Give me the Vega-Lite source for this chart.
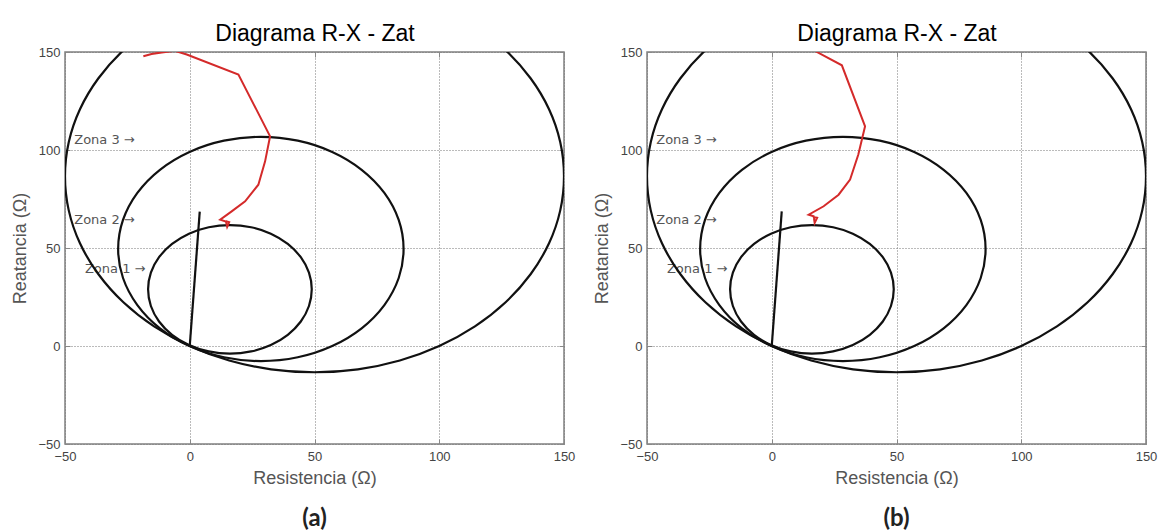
{
  "$schema": "https://vega.github.io/schema/vega-lite/v6.json",
  "background": "white",
  "padding": {"left": 11, "top": 21, "right": 5, "bottom": 0},
  "config": {
    "font": "Liberation Sans",
    "view": {"stroke": "#808080", "strokeWidth": 1.5},
    "axis": {"domain": false}
  },
  "datasets": {
    "circles": [
      {"zone": "Z3", "i": 0, "R": 150, "X": 86.6},
      {"zone": "Z3", "i": 1, "R": 148.5, "X": 104.0},
      {"zone": "Z3", "i": 2, "R": 144.0, "X": 120.8},
      {"zone": "Z3", "i": 3, "R": 136.6, "X": 136.6},
      {"zone": "Z3", "i": 4, "R": 126.6, "X": 150.9},
      {"zone": "Z3", "i": 5, "R": 114.3, "X": 163.2},
      {"zone": "Z3", "i": 6, "R": 100, "X": 173.2},
      {"zone": "Z3", "i": 7, "R": 84.2, "X": 180.6},
      {"zone": "Z3", "i": 8, "R": 67.4, "X": 185.1},
      {"zone": "Z3", "i": 9, "R": 50, "X": 186.6},
      {"zone": "Z3", "i": 10, "R": 32.6, "X": 185.1},
      {"zone": "Z3", "i": 11, "R": 15.8, "X": 180.6},
      {"zone": "Z3", "i": 12, "R": 0, "X": 173.2},
      {"zone": "Z3", "i": 13, "R": -14.3, "X": 163.2},
      {"zone": "Z3", "i": 14, "R": -26.6, "X": 150.9},
      {"zone": "Z3", "i": 15, "R": -36.6, "X": 136.6},
      {"zone": "Z3", "i": 16, "R": -44.0, "X": 120.8},
      {"zone": "Z3", "i": 17, "R": -48.5, "X": 104.0},
      {"zone": "Z3", "i": 18, "R": -50, "X": 86.6},
      {"zone": "Z3", "i": 19, "R": -48.5, "X": 69.2},
      {"zone": "Z3", "i": 20, "R": -44.0, "X": 52.4},
      {"zone": "Z3", "i": 21, "R": -36.6, "X": 36.6},
      {"zone": "Z3", "i": 22, "R": -26.6, "X": 22.3},
      {"zone": "Z3", "i": 23, "R": -14.3, "X": 10.0},
      {"zone": "Z3", "i": 24, "R": 0, "X": 0},
      {"zone": "Z3", "i": 25, "R": 15.8, "X": -7.4},
      {"zone": "Z3", "i": 26, "R": 32.6, "X": -11.9},
      {"zone": "Z3", "i": 27, "R": 50, "X": -13.4},
      {"zone": "Z3", "i": 28, "R": 67.4, "X": -11.9},
      {"zone": "Z3", "i": 29, "R": 84.2, "X": -7.4},
      {"zone": "Z3", "i": 30, "R": 100, "X": 0},
      {"zone": "Z3", "i": 31, "R": 114.3, "X": 10.0},
      {"zone": "Z3", "i": 32, "R": 126.6, "X": 22.3},
      {"zone": "Z3", "i": 33, "R": 136.6, "X": 36.6},
      {"zone": "Z3", "i": 34, "R": 144.0, "X": 52.4},
      {"zone": "Z3", "i": 35, "R": 148.5, "X": 69.2},
      {"zone": "Z2", "i": 0, "R": 85.7, "X": 49.5},
      {"zone": "Z2", "i": 1, "R": 83.75, "X": 64.3},
      {"zone": "Z2", "i": 2, "R": 78.0, "X": 78.1},
      {"zone": "Z2", "i": 3, "R": 68.9, "X": 89.9},
      {"zone": "Z2", "i": 4, "R": 57.1, "X": 99.0},
      {"zone": "Z2", "i": 5, "R": 43.3, "X": 104.75},
      {"zone": "Z2", "i": 6, "R": 28.5, "X": 106.7},
      {"zone": "Z2", "i": 7, "R": 13.7, "X": 104.75},
      {"zone": "Z2", "i": 8, "R": -0.1, "X": 99.0},
      {"zone": "Z2", "i": 9, "R": -11.95, "X": 89.9},
      {"zone": "Z2", "i": 10, "R": -21.0, "X": 78.1},
      {"zone": "Z2", "i": 11, "R": -26.75, "X": 64.3},
      {"zone": "Z2", "i": 12, "R": -28.7, "X": 49.5},
      {"zone": "Z2", "i": 13, "R": -26.75, "X": 34.7},
      {"zone": "Z2", "i": 14, "R": -21.0, "X": 20.9},
      {"zone": "Z2", "i": 15, "R": -11.95, "X": 9.05},
      {"zone": "Z2", "i": 16, "R": -0.1, "X": 0.0},
      {"zone": "Z2", "i": 17, "R": 13.7, "X": -5.75},
      {"zone": "Z2", "i": 18, "R": 28.5, "X": -7.7},
      {"zone": "Z2", "i": 19, "R": 43.3, "X": -5.75},
      {"zone": "Z2", "i": 20, "R": 57.1, "X": 0.0},
      {"zone": "Z2", "i": 21, "R": 68.9, "X": 9.05},
      {"zone": "Z2", "i": 22, "R": 78.0, "X": 20.9},
      {"zone": "Z2", "i": 23, "R": 83.75, "X": 34.7},
      {"zone": "Z1", "i": 0, "R": 48.9, "X": 28.9},
      {"zone": "Z1", "i": 1, "R": 47.78, "X": 37.39},
      {"zone": "Z1", "i": 2, "R": 44.51, "X": 45.3},
      {"zone": "Z1", "i": 3, "R": 39.29, "X": 52.09},
      {"zone": "Z1", "i": 4, "R": 32.5, "X": 57.31},
      {"zone": "Z1", "i": 5, "R": 24.59, "X": 60.58},
      {"zone": "Z1", "i": 6, "R": 16.1, "X": 61.7},
      {"zone": "Z1", "i": 7, "R": 7.61, "X": 60.58},
      {"zone": "Z1", "i": 8, "R": -0.3, "X": 57.31},
      {"zone": "Z1", "i": 9, "R": -7.09, "X": 52.09},
      {"zone": "Z1", "i": 10, "R": -12.31, "X": 45.3},
      {"zone": "Z1", "i": 11, "R": -15.58, "X": 37.39},
      {"zone": "Z1", "i": 12, "R": -16.7, "X": 28.9},
      {"zone": "Z1", "i": 13, "R": -15.58, "X": 20.41},
      {"zone": "Z1", "i": 14, "R": -12.31, "X": 12.5},
      {"zone": "Z1", "i": 15, "R": -7.09, "X": 5.71},
      {"zone": "Z1", "i": 16, "R": -0.3, "X": 0.49},
      {"zone": "Z1", "i": 17, "R": 7.61, "X": -2.78},
      {"zone": "Z1", "i": 18, "R": 16.1, "X": -3.9},
      {"zone": "Z1", "i": 19, "R": 24.59, "X": -2.78},
      {"zone": "Z1", "i": 20, "R": 32.5, "X": 0.49},
      {"zone": "Z1", "i": 21, "R": 39.29, "X": 5.71},
      {"zone": "Z1", "i": 22, "R": 44.51, "X": 12.5},
      {"zone": "Z1", "i": 23, "R": 47.78, "X": 20.41}
    ],
    "zlineA": [
      {"i": 0, "R": 0, "X": 0},
      {"i": 1, "R": 4.0, "X": 68.6}
    ],
    "zlineB": [
      {"i": 0, "R": 0, "X": 0},
      {"i": 1, "R": 4.0, "X": 68.7}
    ],
    "redA": [
      {"i": 0, "R": -18.6, "X": 147.8},
      {"i": 1, "R": -15.3, "X": 149.0},
      {"i": 2, "R": -11.2, "X": 149.8},
      {"i": 3, "R": -6.0, "X": 150.6},
      {"i": 4, "R": -1.2, "X": 148.7},
      {"i": 5, "R": 19.5, "X": 138.5},
      {"i": 6, "R": 32.2, "X": 107.0},
      {"i": 7, "R": 30.2, "X": 94.2},
      {"i": 8, "R": 27.5, "X": 82.3},
      {"i": 9, "R": 22.2, "X": 73.8},
      {"i": 10, "R": 16.8, "X": 68.7},
      {"i": 11, "R": 12.2, "X": 64.5},
      {"i": 12, "R": 14.5, "X": 63.5},
      {"i": 13, "R": 15.0, "X": 60.8},
      {"i": 14, "R": 15.8, "X": 63.2},
      {"i": 15, "R": 14.5, "X": 63.6}
    ],
    "redB": [
      {"i": 0, "R": 17.5, "X": 150.4},
      {"i": 1, "R": 28.1, "X": 143.2},
      {"i": 2, "R": 37.4, "X": 112.1},
      {"i": 3, "R": 34.7, "X": 97.7},
      {"i": 4, "R": 31.4, "X": 84.9},
      {"i": 5, "R": 26.8, "X": 77.2},
      {"i": 6, "R": 20.8, "X": 71.3},
      {"i": 7, "R": 14.8, "X": 67.0},
      {"i": 8, "R": 16.8, "X": 66.2},
      {"i": 9, "R": 17.2, "X": 62.8},
      {"i": 10, "R": 18.2, "X": 65.4},
      {"i": 11, "R": 16.5, "X": 65.8}
    ],
    "zones": [
      {"label": "Zona 3 →", "R": -46.3, "X": 104.9},
      {"label": "Zona 2 →", "R": -46.3, "X": 64.5},
      {"label": "Zona 1 →", "R": -42.0, "X": 39.3}
    ]
  },
  "hconcat": [
    {
      "width": 499,
      "height": 392,
      "title": {"text": "(a)", "orient": "bottom", "anchor": "middle", "font": "Lato", "fontSize": 24, "fontWeight": "bold", "color": "#222", "offset": 20},
      "resolve": {"axis": {"x": "independent", "y": "independent"}},
      "layer": [
        {
          "data": {"name": "zones"},
          "mark": {"type": "text", "align": "left", "baseline": "middle", "font": "DejaVu Sans", "fontSize": 13, "color": "#555"},
          "encoding": {
            "x": {"field": "R", "type": "quantitative", "scale": {"domain": [-50, 150], "nice": false}, "axis": null},
            "y": {"field": "X", "type": "quantitative", "scale": {"domain": [-50, 150], "nice": false}, "axis": null},
            "text": {"field": "label"}
          }
        },
        {
          "data": {"name": "circles"},
          "mark": {"type": "line", "color": "#111", "strokeWidth": 2.2, "clip": true, "interpolate": "cardinal-closed"},
          "encoding": {
            "x": {"field": "R", "type": "quantitative", "scale": {"domain": [-50, 150], "nice": false},
              "axis": {"orient": "bottom", "values": [-50, 0, 50, 100, 150], "title": "Resistencia (Ω)", "grid": true, "gridDash": [1, 2], "gridColor": "#777", "gridWidth": 1, "domain": false, "tickSize": -5, "tickColor": "#888", "labelPadding": 11, "labelFlush": false, "labelOverlap": false, "labelFontSize": 13, "labelColor": "#444", "titleFontSize": 18, "titleFontWeight": "normal", "titleColor": "#555", "titlePadding": 6}},
            "y": {"field": "X", "type": "quantitative", "scale": {"domain": [-50, 150], "nice": false},
              "axis": {"orient": "left", "values": [-50, 0, 50, 100, 150], "title": "Reatancia (Ω)", "grid": true, "gridDash": [1, 2], "gridColor": "#777", "gridWidth": 1, "domain": false, "tickSize": -5, "tickColor": "#888", "labelPadding": 10, "labelFlush": false, "labelOverlap": false, "labelFontSize": 13, "labelColor": "#444", "titleFontSize": 18, "titleFontWeight": "normal", "titleColor": "#555", "titlePadding": 8}},
            "detail": {"field": "zone"},
            "order": {"field": "i", "type": "quantitative"}
          }
        },
        {
          "data": {"name": "zlineA"},
          "mark": {"type": "line", "color": "#111", "strokeWidth": 2.2, "clip": true},
          "encoding": {
            "x": {"field": "R", "type": "quantitative", "scale": {"domain": [-50, 150], "nice": false}, "axis": null},
            "y": {"field": "X", "type": "quantitative", "scale": {"domain": [-50, 150], "nice": false}, "axis": null},
            "order": {"field": "i", "type": "quantitative"}
          }
        },
        {
          "data": {"name": "redA"},
          "mark": {"type": "line", "color": "#d42a2a", "strokeWidth": 2, "clip": true},
          "encoding": {
            "x": {"field": "R", "type": "quantitative", "scale": {"domain": [-50, 150], "nice": false}, "axis": null},
            "y": {"field": "X", "type": "quantitative", "scale": {"domain": [-50, 150], "nice": false}, "axis": null},
            "order": {"field": "i", "type": "quantitative"}
          }
        },
        {
          "data": {"name": "zlineA"},
          "mark": {"type": "point", "opacity": 0},
          "encoding": {
            "x": {"field": "R", "type": "quantitative", "scale": {"domain": [-50, 150], "nice": false},
              "axis": {"orient": "top", "values": [-50, 0, 50, 100, 150], "labels": false, "grid": false, "domain": false, "tickSize": -5, "tickColor": "#888", "title": "Diagrama R-X - Zat", "titleFontSize": 23, "titleFontWeight": "normal", "titleColor": "#000", "titlePadding": 6}},
            "y": {"field": "X", "type": "quantitative", "scale": {"domain": [-50, 150], "nice": false},
              "axis": {"orient": "right", "values": [-50, 0, 50, 100, 150], "labels": false, "grid": false, "domain": false, "tickSize": -5, "tickColor": "#888", "title": null}}
          }
        }
      ]
    },
    {
      "width": 499,
      "height": 392,
      "title": {"text": "(b)", "orient": "bottom", "anchor": "middle", "font": "Lato", "fontSize": 24, "fontWeight": "bold", "color": "#222", "offset": 20},
      "resolve": {"axis": {"x": "independent", "y": "independent"}},
      "layer": [
        {
          "data": {"name": "zones"},
          "mark": {"type": "text", "align": "left", "baseline": "middle", "font": "DejaVu Sans", "fontSize": 13, "color": "#555"},
          "encoding": {
            "x": {"field": "R", "type": "quantitative", "scale": {"domain": [-50, 150], "nice": false}, "axis": null},
            "y": {"field": "X", "type": "quantitative", "scale": {"domain": [-50, 150], "nice": false}, "axis": null},
            "text": {"field": "label"}
          }
        },
        {
          "data": {"name": "circles"},
          "mark": {"type": "line", "color": "#111", "strokeWidth": 2.2, "clip": true, "interpolate": "cardinal-closed"},
          "encoding": {
            "x": {"field": "R", "type": "quantitative", "scale": {"domain": [-50, 150], "nice": false},
              "axis": {"orient": "bottom", "values": [-50, 0, 50, 100, 150], "title": "Resistencia (Ω)", "grid": true, "gridDash": [1, 2], "gridColor": "#777", "gridWidth": 1, "domain": false, "tickSize": -5, "tickColor": "#888", "labelPadding": 11, "labelFlush": false, "labelOverlap": false, "labelFontSize": 13, "labelColor": "#444", "titleFontSize": 18, "titleFontWeight": "normal", "titleColor": "#555", "titlePadding": 6}},
            "y": {"field": "X", "type": "quantitative", "scale": {"domain": [-50, 150], "nice": false},
              "axis": {"orient": "left", "values": [-50, 0, 50, 100, 150], "title": "Reatancia (Ω)", "grid": true, "gridDash": [1, 2], "gridColor": "#777", "gridWidth": 1, "domain": false, "tickSize": -5, "tickColor": "#888", "labelPadding": 10, "labelFlush": false, "labelOverlap": false, "labelFontSize": 13, "labelColor": "#444", "titleFontSize": 18, "titleFontWeight": "normal", "titleColor": "#555", "titlePadding": 8}},
            "detail": {"field": "zone"},
            "order": {"field": "i", "type": "quantitative"}
          }
        },
        {
          "data": {"name": "zlineB"},
          "mark": {"type": "line", "color": "#111", "strokeWidth": 2.2, "clip": true},
          "encoding": {
            "x": {"field": "R", "type": "quantitative", "scale": {"domain": [-50, 150], "nice": false}, "axis": null},
            "y": {"field": "X", "type": "quantitative", "scale": {"domain": [-50, 150], "nice": false}, "axis": null},
            "order": {"field": "i", "type": "quantitative"}
          }
        },
        {
          "data": {"name": "redB"},
          "mark": {"type": "line", "color": "#d42a2a", "strokeWidth": 2, "clip": true},
          "encoding": {
            "x": {"field": "R", "type": "quantitative", "scale": {"domain": [-50, 150], "nice": false}, "axis": null},
            "y": {"field": "X", "type": "quantitative", "scale": {"domain": [-50, 150], "nice": false}, "axis": null},
            "order": {"field": "i", "type": "quantitative"}
          }
        },
        {
          "data": {"name": "zlineB"},
          "mark": {"type": "point", "opacity": 0},
          "encoding": {
            "x": {"field": "R", "type": "quantitative", "scale": {"domain": [-50, 150], "nice": false},
              "axis": {"orient": "top", "values": [-50, 0, 50, 100, 150], "labels": false, "grid": false, "domain": false, "tickSize": -5, "tickColor": "#888", "title": "Diagrama R-X - Zat", "titleFontSize": 23, "titleFontWeight": "normal", "titleColor": "#000", "titlePadding": 6}},
            "y": {"field": "X", "type": "quantitative", "scale": {"domain": [-50, 150], "nice": false},
              "axis": {"orient": "right", "values": [-50, 0, 50, 100, 150], "labels": false, "grid": false, "domain": false, "tickSize": -5, "tickColor": "#888", "title": null}}
          }
        }
      ]
    }
  ],
  "spacing": 83,
  "bounds": "flush"
}
